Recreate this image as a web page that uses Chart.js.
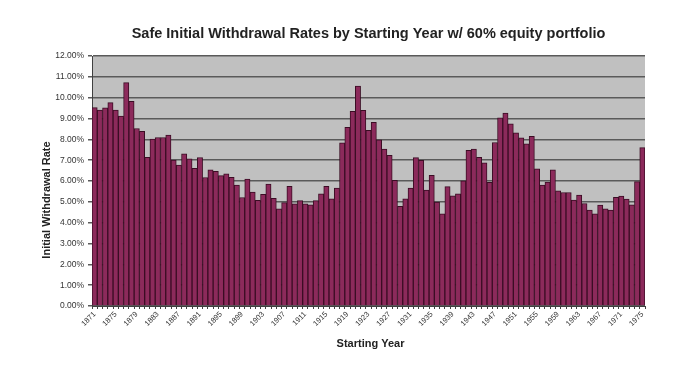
<!DOCTYPE html>
<html>
<head>
<meta charset="utf-8">
<script src="https://cdn.jsdelivr.net/npm/chart.js@4.4.1/dist/chart.umd.min.js"></script>
<style>
  html, body { margin: 0; padding: 0; background: #fff; }
</style>
</head>
<body>
<canvas id="chart" width="692" height="365"></canvas>
<script>
// 開始年
const years = [
  '1871','1872','1873','1874','1875','1876','1877','1878','1879','1880',
  '1881','1882','1883','1884','1885','1886','1887','1888','1889','1890',
  '1891','1892','1893','1894','1895','1896','1897','1898','1899','1900',
  '1901','1902','1903','1904','1905','1906','1907','1908','1909','1910',
  '1911','1912','1913','1914','1915','1916','1917','1918','1919','1920',
  '1921','1922','1923','1924','1925','1926','1927','1928','1929','1930',
  '1931','1932','1933','1934','1935','1936','1937','1938','1939','1940',
  '1941','1942','1943','1944','1945','1946','1947','1948','1949','1950',
  '1951','1952','1953','1954','1955','1956','1957','1958','1959','1960',
  '1961','1962','1963','1964','1965','1966','1967','1968','1969','1970',
  '1971','1972','1973','1974','1975'
];
// 安全な初期引出率（%）
const rates = [
  9.52, 9.40, 9.51, 9.76, 9.40, 9.12, 10.72, 9.82, 8.52, 8.39,
  7.14, 8.01, 8.09, 8.09, 8.21, 7.00, 6.77, 7.31, 7.07, 6.61,
  7.13, 6.17, 6.54, 6.47, 6.26, 6.34, 6.18, 5.81, 5.21, 6.09,
  5.47, 5.07, 5.36, 5.85, 5.17, 4.67, 4.96, 5.75, 4.91, 5.06,
  4.91, 4.86, 5.06, 5.39, 5.75, 5.15, 5.66, 7.83, 8.58, 9.35,
  10.56, 9.39, 8.43, 8.82, 7.98, 7.53, 7.23, 6.03, 4.79, 5.14,
  5.66, 7.12, 6.99, 5.57, 6.27, 4.99, 4.43, 5.73, 5.29, 5.38,
  6.01, 7.47, 7.53, 7.14, 6.87, 5.94, 7.85, 9.03, 9.26, 8.75,
  8.31, 8.07, 7.78, 8.14, 6.59, 5.81, 5.95, 6.54, 5.53, 5.45,
  5.45, 5.09, 5.33, 4.92, 4.61, 4.43, 4.85, 4.66, 4.60, 5.22,
  5.28, 5.13, 4.86, 5.97, 7.60
];
const titleText = 'Safe Initial Withdrawal Rates by Starting Year w/ 60% equity portfolio';
const xTitle = 'Starting Year';
const yTitle = 'Initial Withdrawal Rate';

// プロットエリアの灰色背景
const plotBg = {
  id: 'plotBg',
  beforeDraw(chart) {
    const { ctx, chartArea: a } = chart;
    ctx.save();
    ctx.fillStyle = '#c0c0c0';
    ctx.fillRect(a.left, a.top, a.right - a.left, a.bottom - a.top);
    ctx.restore();
  }
};

// タイトルと軸タイトル
const titles = {
  id: 'titles',
  afterDraw(chart) {
    const { ctx, chartArea: a } = chart;
    const cx = (a.left + a.right) / 2;
    ctx.save();
    ctx.fillStyle = '#222';
    ctx.textAlign = 'center';
    ctx.textBaseline = 'middle';
    ctx.font = 'bold 14.5px "Liberation Sans", Arial, sans-serif';
    ctx.fillText(titleText, cx, 34);
    ctx.font = 'bold 11px "Liberation Sans", Arial, sans-serif';
    ctx.fillText(xTitle, cx + 2, 344);
    ctx.translate(47, 200);
    ctx.rotate(-Math.PI / 2);
    ctx.fillText(yTitle, 0, 0);
    ctx.restore();
  }
};

const ctx = document.getElementById('chart');

const chart = new Chart(ctx, {
  type: 'bar',
  data: {
    labels: years,
    datasets: [{
      label: yTitle,
      data: rates,
      backgroundColor: '#8c2a5b',
      borderColor: '#3b0d24',
      borderWidth: 1,
      barPercentage: 1,
      categoryPercentage: 1,
    }]
  },
  options: {
    responsive: false,
    animation: false,
    devicePixelRatio: 1,
    layout: { padding: { top: 56, right: 47, left: 0, bottom: 0 } },
    plugins: {
      legend: { display: false },
      tooltip: { enabled: false },
    },
    scales: {
      x: {
        afterFit(scale) { scale.height = 59; },
        grid: {
          drawOnChartArea: false,
          tickLength: 3,
          color: '#404040',
        },
        border: { color: '#404040', width: 1 },
        ticks: {
          autoSkip: false,
          maxRotation: 45,
          minRotation: 45,
          padding: 1,
          color: '#333',
          font: { family: '"Liberation Sans", Arial, sans-serif', size: 7.5 },
          callback: function(value, index) {
            return index % 4 === 0 ? years[index] : '';
          }
        }
      },
      y: {
        min: 0,
        max: 12,
        afterFit(scale) { scale.width = 92; },
        grid: {
          color: '#5a5a5a',
          lineWidth: 1.5,
          tickLength: 4,
        },
        border: { color: '#404040', width: 1 },
        ticks: {
          stepSize: 1,
          padding: 4,
          color: '#333',
          font: { family: '"Liberation Sans", Arial, sans-serif', size: 8.5 },
          callback: function(v) { return v.toFixed(2) + '%'; }
        }
      }
    }
  },
  plugins: [plotBg, titles]
});
</script>
</body>
</html>
